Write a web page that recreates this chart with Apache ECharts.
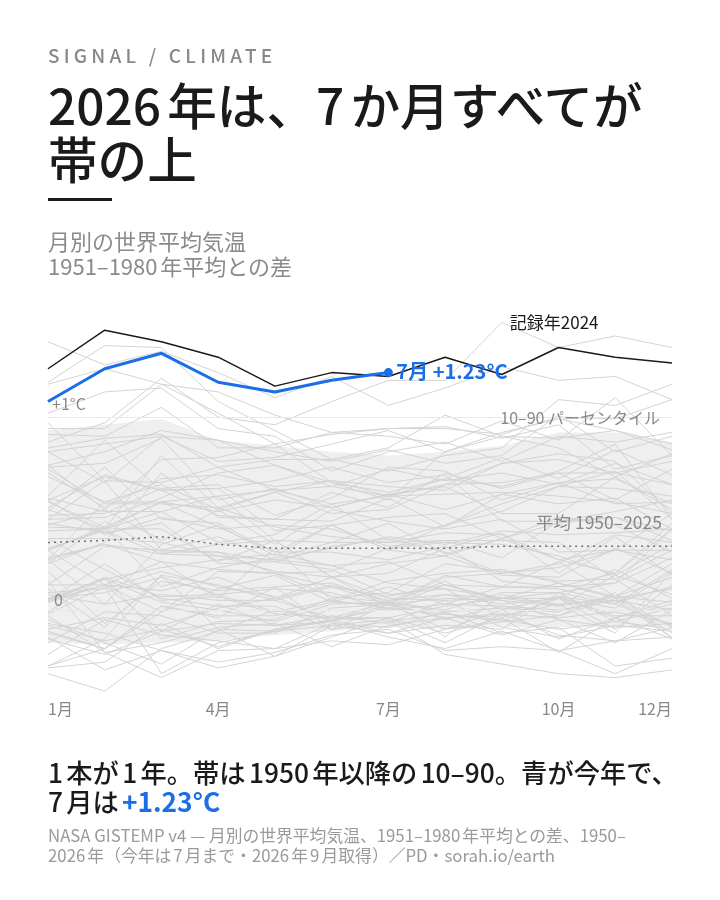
<!DOCTYPE html>
<html><head><meta charset="utf-8">
<script src="https://cdn.jsdelivr.net/npm/echarts@6/dist/echarts.min.js"></script>
<style>
html,body{margin:0;padding:0;background:#fff;}
body{width:720px;height:900px;position:relative;overflow:hidden;font-family:"Noto Sans CJK JP","Noto Sans",sans-serif;text-autospace:normal;}
#chart{position:absolute;left:0;top:0;width:720px;height:900px;}
.t{position:absolute;left:48px;white-space:nowrap;z-index:2;}
.kicker{top:42px;font-size:19px;line-height:26px;letter-spacing:4.2px;color:#888;font-weight:500;}
.title{top:76px;font-size:49.6px;line-height:54px;color:#1a1a1a;font-weight:500;}
.rule{position:absolute;left:48px;top:198px;width:64px;height:3px;background:#1a1a1a;}
.sub{top:228px;font-size:22px;line-height:25px;color:#8a8a8a;}
.cap{top:757px;font-size:26.3px;line-height:29px;color:#1a1a1a;font-weight:500;}
.cap span{color:#1a6ee6;font-weight:700;margin-left:3px;}
.foot{top:825px;font-size:16.8px;line-height:20px;color:#9a9a9a;}
</style></head><body>
<div id="chart"></div>
<div class="t kicker">SIGNAL / CLIMATE</div>
<div class="t title">2026年は、7か月すべてが<br>帯の上</div>
<div class="rule"></div>
<div class="t sub">月別の世界平均気温<br>1951–1980年平均との差</div>
<div class="t cap">1本が1年。帯は1950年以降の10–90。青が今年で、<br>7月は<span>+1.23°C</span></div>
<div class="t foot">NASA GISTEMP v4 — 月別の世界平均気温、1951–1980年平均との差、1950–<br>2026年（今年は7月まで・2026年9月取得）／PD・sorah.io/earth</div>
<script>
const months = ['1月','2月','3月','4月','5月','6月','7月','8月','9月','10月','11月','12月'];
const shownMonthIdx = [0,3,6,9,11];

const y1950 = [-0.30,-0.27,-0.07,-0.20,-0.10,-0.06,-0.14,-0.20,-0.11,-0.21,-0.33,-0.20];
const y1951 = [-0.33,-0.42,-0.20,-0.11,0.00,-0.05,0.01,0.08,0.03,0.06,-0.10,0.13];
const y1952 = [0.13,0.13,-0.11,0.03,-0.08,-0.06,0.03,0.06,0.05,-0.05,-0.17,0.00];
const y1953 = [0.05,0.13,0.10,0.17,0.06,0.13,0.05,0.08,0.06,0.06,-0.04,0.05];
const y1954 = [-0.23,-0.05,-0.13,-0.16,-0.20,-0.16,-0.18,-0.10,-0.06,-0.03,0.09,-0.15];
const y1955 = [0.15,-0.22,-0.35,-0.21,-0.20,-0.07,-0.09,-0.01,-0.12,-0.09,-0.29,-0.25];
const y1956 = [-0.14,-0.31,-0.21,-0.27,-0.22,-0.13,-0.10,-0.21,-0.19,-0.21,-0.16,-0.09];
const y1957 = [-0.10,-0.04,-0.08,0.01,0.06,0.17,0.02,0.13,0.05,0.02,0.07,0.17];
const y1958 = [0.37,0.21,0.06,0.02,0.02,-0.10,0.03,-0.04,-0.03,0.03,0.05,0.00];
const y1959 = [0.06,0.09,0.17,0.08,-0.01,0.05,0.01,-0.02,-0.05,-0.10,-0.06,0.01];
const y1960 = [-0.02,0.12,-0.33,-0.17,-0.11,-0.05,-0.04,0.02,0.06,0.03,-0.12,0.20];
const y1961 = [0.04,0.17,0.07,0.08,0.11,0.09,0.00,0.03,0.02,0.00,0.05,-0.14];
const y1962 = [0.05,0.16,0.04,0.00,-0.06,0.03,0.04,-0.01,0.01,-0.01,0.07,0.04];
const y1963 = [-0.01,0.17,-0.15,-0.06,-0.05,0.06,0.09,0.24,0.20,0.15,0.16,-0.03];
const y1964 = [-0.07,-0.12,-0.21,-0.30,-0.24,-0.08,-0.05,-0.23,-0.28,-0.33,-0.35,-0.31];
const y1965 = [-0.08,-0.16,-0.10,-0.19,-0.10,-0.05,-0.12,-0.04,-0.13,-0.05,-0.09,-0.07];
const y1966 = [-0.17,-0.01,-0.03,-0.12,-0.12,0.01,0.03,-0.10,0.00,-0.15,-0.04,-0.15];
const y1967 = [-0.11,-0.20,0.02,-0.04,0.12,-0.10,-0.06,-0.02,-0.06,0.07,-0.03,-0.03];
const y1968 = [-0.29,-0.15,0.18,-0.10,-0.11,-0.08,-0.12,-0.08,-0.10,0.09,-0.06,-0.10];
const y1969 = [-0.12,-0.20,-0.01,0.20,0.19,0.07,0.04,0.00,0.09,0.09,0.14,0.27];
const y1970 = [0.05,0.24,0.05,0.07,-0.02,-0.04,0.04,-0.05,0.02,-0.03,0.06,-0.12];
const y1971 = [-0.03,-0.22,-0.17,-0.09,-0.07,-0.19,-0.08,-0.04,-0.02,-0.04,-0.01,-0.07];
const y1972 = [-0.29,-0.20,0.02,-0.03,-0.03,0.04,0.03,0.15,0.00,0.07,0.03,0.21];
const y1973 = [0.26,0.34,0.29,0.28,0.20,0.17,0.06,0.05,0.06,0.09,0.03,-0.08];
const y1974 = [-0.15,-0.23,-0.11,-0.07,-0.08,-0.03,-0.07,0.05,-0.09,-0.14,-0.08,-0.11];
const y1975 = [0.08,0.03,0.08,0.05,0.05,-0.04,-0.04,-0.17,-0.02,-0.13,-0.16,-0.14];
const y1976 = [-0.05,-0.17,-0.28,-0.10,-0.24,-0.14,-0.04,-0.12,-0.04,-0.22,-0.04,0.03];
const y1977 = [0.06,0.16,0.22,0.26,0.29,0.23,0.14,0.11,0.06,0.06,0.21,0.06];
const y1978 = [0.09,0.11,0.20,0.12,0.07,-0.06,0.05,-0.14,0.08,0.02,0.18,0.08];
const y1979 = [0.11,-0.09,0.18,0.13,0.05,0.12,0.03,0.17,0.19,0.22,0.31,0.50];
const y1980 = [0.32,0.41,0.29,0.34,0.36,0.17,0.24,0.28,0.18,0.17,0.32,0.19];
const y1981 = [0.56,0.43,0.56,0.43,0.30,0.30,0.26,0.33,0.15,0.12,0.19,0.42];
const y1982 = [0.04,0.13,-0.01,0.11,0.18,0.04,0.12,0.03,0.12,0.12,0.14,0.42];
const y1983 = [0.52,0.42,0.42,0.25,0.36,0.17,0.19,0.32,0.40,0.19,0.38,0.18];
const y1984 = [0.31,0.13,0.25,0.06,0.32,0.05,0.15,0.19,0.21,0.14,0.07,-0.09];
const y1985 = [0.20,-0.07,0.15,0.10,0.12,0.14,0.04,0.18,0.12,0.11,0.04,0.12];
const y1986 = [0.27,0.34,0.25,0.21,0.19,0.12,0.07,0.13,0.06,0.14,0.06,0.11];
const y1987 = [0.31,0.43,0.12,0.22,0.27,0.35,0.45,0.29,0.37,0.26,0.19,0.45];
const y1988 = [0.57,0.39,0.48,0.42,0.44,0.42,0.33,0.36,0.36,0.35,0.16,0.31];
const y1989 = [0.13,0.33,0.31,0.30,0.19,0.20,0.32,0.35,0.34,0.28,0.18,0.34];
const y1990 = [0.41,0.42,0.80,0.53,0.43,0.38,0.35,0.36,0.27,0.46,0.48,0.41];
const y1991 = [0.44,0.52,0.36,0.52,0.34,0.52,0.46,0.42,0.47,0.30,0.31,0.31];
const y1992 = [0.45,0.40,0.45,0.24,0.25,0.21,0.08,0.11,-0.04,0.06,0.01,0.20];
const y1993 = [0.37,0.37,0.35,0.28,0.26,0.23,0.25,0.13,0.12,0.25,0.07,0.24];
const y1994 = [0.26,0.03,0.34,0.44,0.28,0.44,0.31,0.28,0.37,0.45,0.48,0.36];
const y1995 = [0.51,0.74,0.47,0.45,0.30,0.44,0.48,0.50,0.37,0.48,0.44,0.30];
const y1996 = [0.24,0.46,0.30,0.30,0.25,0.33,0.37,0.30,0.19,0.24,0.39,0.35];
const y1997 = [0.31,0.42,0.51,0.35,0.39,0.55,0.36,0.44,0.55,0.64,0.63,0.59];
const y1998 = [0.59,0.88,0.62,0.63,0.67,0.74,0.66,0.70,0.46,0.46,0.51,0.57];
const y1999 = [0.47,0.67,0.31,0.38,0.26,0.32,0.38,0.34,0.41,0.39,0.40,0.42];
const y2000 = [0.26,0.56,0.56,0.59,0.36,0.35,0.35,0.40,0.39,0.26,0.31,0.26];
const y2001 = [0.43,0.42,0.56,0.51,0.57,0.53,0.60,0.64,0.50,0.50,0.69,0.52];
const y2002 = [0.74,0.76,0.89,0.57,0.63,0.53,0.60,0.52,0.60,0.55,0.58,0.42];
const y2003 = [0.73,0.55,0.55,0.53,0.61,0.50,0.52,0.65,0.66,0.71,0.57,0.73];
const y2004 = [0.57,0.69,0.62,0.63,0.41,0.44,0.31,0.44,0.51,0.64,0.72,0.47];
const y2005 = [0.71,0.53,0.68,0.70,0.64,0.67,0.64,0.62,0.76,0.78,0.71,0.65];
const y2006 = [0.53,0.70,0.62,0.49,0.47,0.61,0.53,0.71,0.63,0.71,0.71,0.77];
const y2007 = [0.97,0.67,0.66,0.74,0.62,0.55,0.59,0.60,0.61,0.59,0.56,0.50];
const y2008 = [0.24,0.35,0.71,0.48,0.47,0.46,0.58,0.43,0.60,0.66,0.68,0.55];
const y2009 = [0.58,0.51,0.51,0.59,0.62,0.64,0.73,0.67,0.71,0.65,0.76,0.65];
const y2010 = [0.75,0.82,0.93,0.88,0.75,0.66,0.61,0.68,0.64,0.72,0.86,0.47];
const y2011 = [0.49,0.50,0.63,0.65,0.49,0.58,0.74,0.72,0.57,0.66,0.55,0.56];
const y2012 = [0.47,0.48,0.58,0.71,0.75,0.64,0.59,0.65,0.76,0.81,0.77,0.50];
const y2013 = [0.69,0.56,0.65,0.52,0.61,0.67,0.59,0.68,0.79,0.68,0.83,0.70];
const y2014 = [0.75,0.52,0.78,0.79,0.86,0.66,0.57,0.82,0.90,0.84,0.69,0.81];
const y2015 = [0.84,0.89,0.91,0.74,0.78,0.78,0.72,0.80,0.84,1.09,1.06,1.17];
const y2016 = [1.18,1.37,1.36,1.08,0.93,0.78,0.84,1.01,0.90,0.89,0.93,0.83];
const y2017 = [1.02,1.13,1.15,0.94,0.90,0.72,0.82,0.87,0.77,0.90,0.87,0.92];
const y2018 = [0.82,0.86,0.90,0.88,0.82,0.77,0.83,0.76,0.80,1.01,0.82,0.90];
const y2019 = [0.94,0.94,1.17,1.02,0.86,0.91,0.94,0.94,0.91,1.00,0.99,1.09];
const y2020 = [1.17,1.25,1.17,1.13,1.01,0.92,0.90,0.86,0.98,0.88,1.10,0.80];
const y2021 = [0.82,0.66,0.90,0.77,0.79,0.86,0.93,0.82,0.92,0.99,0.93,0.86];
const y2022 = [0.91,0.90,1.05,0.84,0.84,0.92,0.94,0.95,0.89,0.96,0.73,0.80];
const y2023 = [0.87,0.97,1.20,1.00,0.96,1.08,1.19,1.19,1.49,1.36,1.42,1.36];
const y2025 = [1.39,1.27,1.34,1.23,1.10,1.21,1.06,1.15,1.26,1.19,1.21,1.09];

const grayYears = [y1950,y1951,y1952,y1953,y1954,y1955,y1956,y1957,y1958,y1959,
  y1960,y1961,y1962,y1963,y1964,y1965,y1966,y1967,y1968,y1969,
  y1970,y1971,y1972,y1973,y1974,y1975,y1976,y1977,y1978,y1979,
  y1980,y1981,y1982,y1983,y1984,y1985,y1986,y1987,y1988,y1989,
  y1990,y1991,y1992,y1993,y1994,y1995,y1996,y1997,y1998,y1999,
  y2000,y2001,y2002,y2003,y2004,y2005,y2006,y2007,y2008,y2009,
  y2010,y2011,y2012,y2013,y2014,y2015,y2016,y2017,y2018,y2019,
  y2020,y2021,y2022,y2023,y2025];

const record2024 = [1.25,1.45,1.39,1.31,1.16,1.23,1.21,1.31,1.22,1.36,1.31,1.28];
const year2026 = [1.08,1.25,1.33,1.18,1.13,1.19,1.23];
const band10 = [-0.17,-0.18,-0.17,-0.16,-0.13,-0.11,-0.09,-0.10,-0.09,-0.09,-0.09,-0.09];
const band90 = [0.93,0.96,0.99,0.88,0.85,0.82,0.80,0.82,0.85,0.92,0.92,0.87];
const mean19502025 = [0.35,0.36,0.38,0.34,0.32,0.32,0.32,0.32,0.33,0.33,0.33,0.33];
const refLines = [0, 1];

const FONT = '"Noto Sans CJK JP","Noto Sans",sans-serif';
const BLUE = '#1a6ee6';

const chart = echarts.init(document.getElementById('chart'), null, {renderer:'canvas'});
const series = [];

series.push({type:'line', data: band10, stack:'band', stackStrategy:'all', symbol:'none',
  lineStyle:{opacity:0}, silent:true, z:1,
  markLine:{silent:true, symbol:'none', label:{show:false},
    lineStyle:{color:'#e9e9e9', width:1, type:'solid'},
    data: refLines.map(v => ({yAxis:v}))}});
series.push({type:'line', data: band90.map((v,i)=> +(v - band10[i]).toFixed(3)), stack:'band', stackStrategy:'all',
  symbol:'none', lineStyle:{opacity:0}, areaStyle:{color:'#efefef', opacity:1}, silent:true, z:1});

grayYears.forEach(arr => series.push({type:'line', data: arr, symbol:'none', silent:true, z:2,
  lineStyle:{color:'#d3d3d3', width:1}}));

series.push({type:'line', data: mean19502025, symbol:'none', silent:true, z:3,
  lineStyle:{color:'#6f6f6f', width:1.5, type:[2,4]}});
series.push({type:'line', data: record2024, symbol:'none', silent:true, z:4,
  lineStyle:{color:'#1a1a1a', width:1.5}});
series.push({type:'line', silent:true, z:5,
  data: year2026.map((v,i)=> i === year2026.length-1 ? {value:v, symbol:'circle', symbolSize:9} : {value:v, symbol:'none'}),
  showSymbol:true, showAllSymbol:true, symbol:'none',
  itemStyle:{color:BLUE}, lineStyle:{color:BLUE, width:3}});

chart.setOption({
  animation:false,
  backgroundColor:'transparent',
  grid:{left:48, right:48, top:320.5, bottom:203.15, containLabel:false},
  xAxis:{type:'category', data:months, boundaryGap:false,
    axisLine:{show:false}, axisTick:{show:false}, splitLine:{show:false},
    axisLabel:{color:'#888', fontSize:16, fontFamily:FONT, margin:4,
      interval:(idx)=> shownMonthIdx.includes(idx),
      alignMinLabel:'left', alignMaxLabel:'right', showMinLabel:true, showMaxLabel:true}},
  yAxis:{type:'value', min:-0.45, max:1.5, show:false, splitLine:{show:false}},
  series
});

const px = (i, v) => chart.convertToPixel({gridIndex:0}, [i, v]);
const last = year2026.length - 1;
const pBlue = px(last, year2026[last]);
const pRec = px(8, record2024[8]);
const pBand = px(11, band90[11]);
const pMean = px(11, mean19502025[11]);
const pOne = px(0, 1);
const pZero = px(0, 0);

chart.setOption({graphic:[
  {type:'text', x:pBlue[0]+8, y:pBlue[1]-1, z:10, style:{text: months[last] + ' +' + year2026[last].toFixed(2) + '°C',
    fill:BLUE, fontSize:20, fontWeight:'bold', fontFamily:FONT, align:'left', verticalAlign:'middle'}},
  {type:'text', x:pRec[0]+8, y:pRec[1]-52, z:10, style:{text:'記録年2024', fill:'#1a1a1a', fontSize:17,
    fontFamily:FONT, align:'left', verticalAlign:'middle'}},
  {type:'text', x:pBand[0]-12, y:pBand[1]-24, z:10, style:{text:'10–90 パーセンタイル', fill:'#888', fontSize:16,
    fontFamily:FONT, align:'right', verticalAlign:'middle'}},
  {type:'text', x:pMean[0]-10, y:pMean[1]-24, z:10, style:{text:'平均 1950–2025', fill:'#888', fontSize:17.5,
    fontFamily:FONT, align:'right', verticalAlign:'middle'}},
  {type:'text', x:pOne[0]+4, y:pOne[1]-13, z:10, style:{text:'+1°C', fill:'#888', fontSize:16,
    fontFamily:FONT, align:'left', verticalAlign:'middle'}},
  {type:'text', x:pZero[0]+6, y:pZero[1]-10, z:10, style:{text:'0', fill:'#888', fontSize:16,
    fontFamily:FONT, align:'left', verticalAlign:'middle'}}
]});
</script>
</body></html>
